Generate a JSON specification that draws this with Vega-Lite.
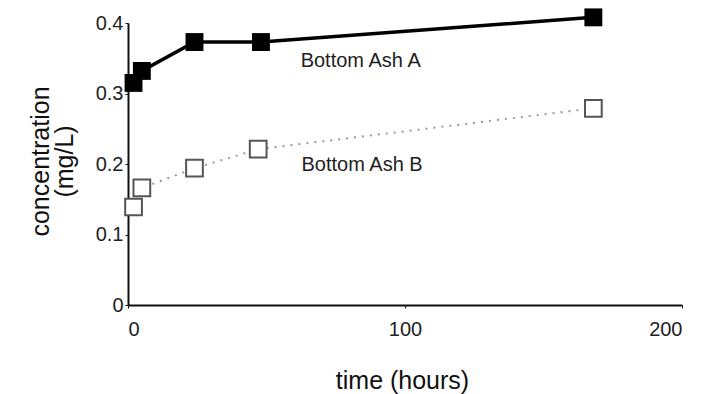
{
  "$schema": "https://vega.github.io/schema/vega-lite/v6.json",
  "autosize": "none",
  "width": 554,
  "height": 282,
  "padding": {"left": 128, "top": 23, "right": 20, "bottom": 89},
  "background": "white",
  "config": {
    "view": {"stroke": null},
    "font": "Liberation Sans",
    "axis": {
      "grid": false,
      "domainColor": "#111",
      "domainWidth": 2,
      "tickColor": "#111",
      "tickSize": 3,
      "labelFont": "Liberation Sans",
      "labelFontSize": 20,
      "labelColor": "#222",
      "titleFont": "Liberation Sans",
      "titleColor": "#111",
      "titleFontWeight": "normal"
    }
  },
  "datasets": {
    "series": [
      {"time": 2, "conc": 0.315, "ash": "A"},
      {"time": 5, "conc": 0.332, "ash": "A"},
      {"time": 24, "conc": 0.373, "ash": "A"},
      {"time": 48, "conc": 0.373, "ash": "A"},
      {"time": 168, "conc": 0.408, "ash": "A"},
      {"time": 2, "conc": 0.139, "ash": "B"},
      {"time": 5, "conc": 0.166, "ash": "B"},
      {"time": 24, "conc": 0.194, "ash": "B"},
      {"time": 47, "conc": 0.221, "ash": "B"},
      {"time": 168, "conc": 0.279, "ash": "B"}
    ],
    "labels": [
      {"time": 84, "conc": 0.346, "label": "Bottom Ash A"},
      {"time": 84.5, "conc": 0.199, "label": "Bottom Ash B"}
    ]
  },
  "encoding": {
    "x": {
      "field": "time", "type": "quantitative",
      "scale": {"domain": [0, 200], "nice": false},
      "axis": {
        "values": [0, 100, 200],
        "labelPadding": 11,
        "title": "time (hours)",
        "titleFontSize": 25,
        "titleX": 274,
        "titleY": 83,
        "titleAnchor": "middle",
        "titleAlign": "center",
        "titleBaseline": "alphabetic"
      }
    },
    "y": {
      "field": "conc", "type": "quantitative",
      "scale": {"domain": [0, 0.4], "nice": false},
      "axis": {
        "values": [0, 0.1, 0.2, 0.3, 0.4],
        "labelExpr": "datum.value == 0 ? '0' : format(datum.value, '.1f')",
        "labelPadding": 2,
        "title": ["concentration", "(mg/L)"],
        "titleFontSize": 25,
        "titleLineHeight": 24,
        "titleAngle": -90,
        "titleX": -88,
        "titleY": 138,
        "titleAlign": "center",
        "titleBaseline": "middle"
      }
    }
  },
  "layer": [
    {
      "data": {"name": "series"},
      "transform": [{"filter": "datum.ash === 'B'"}],
      "mark": {"type": "line", "color": "#999", "strokeWidth": 2, "strokeDash": [2, 6]},
      "encoding": {}
    },
    {
      "data": {"name": "series"},
      "transform": [{"filter": "datum.ash === 'A'"}],
      "mark": {"type": "line", "color": "#000", "strokeWidth": 3.5},
      "encoding": {}
    },
    {
      "data": {"name": "series"},
      "transform": [{"filter": "datum.ash === 'B'"}],
      "mark": {"type": "point", "shape": "square", "size": 280, "filled": true, "fill": "white", "stroke": "#555", "strokeWidth": 2, "opacity": 1},
      "encoding": {}
    },
    {
      "data": {"name": "series"},
      "transform": [{"filter": "datum.ash === 'A'"}],
      "mark": {"type": "point", "shape": "square", "size": 320, "filled": true, "color": "#000", "opacity": 1},
      "encoding": {}
    },
    {
      "data": {"name": "labels"},
      "mark": {"type": "text", "fontSize": 20, "color": "#222", "align": "center", "baseline": "middle", "font": "Liberation Sans"},
      "encoding": {"text": {"field": "label"}}
    }
  ]
}
